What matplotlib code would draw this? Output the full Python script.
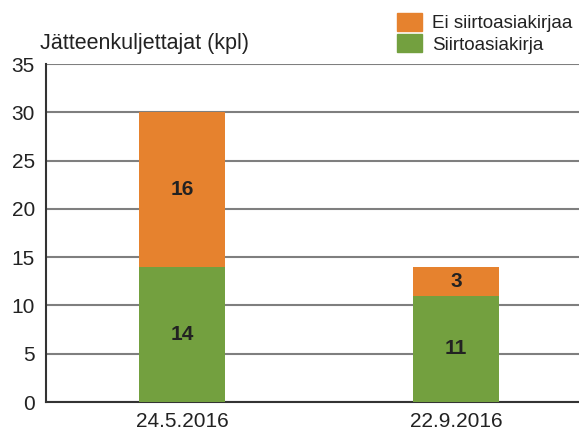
import matplotlib
matplotlib.use("Agg")
import matplotlib.pyplot as plt
import numpy as np
from matplotlib.patches import Patch

plt.rcParams["font.family"] = ["Liberation Sans", "DejaVu Sans"]

dates = ["24.5.2016", "22.9.2016"]
with_doc = [14, 11]       # Siirtoasiakirja
without_doc = [16, 3]     # Ei siirtoasiakirjaa

ORANGE = "#E6822E"
GREEN = "#73A03F"
TEXT = "#222222"

fig = plt.figure(figsize=(5.79, 4.30), dpi=100)
ax = fig.add_axes([0.0794, 0.0651, 0.93, 0.786])

x = np.arange(len(dates))
width = 0.315
b1 = ax.bar(x, with_doc, width, color=GREEN, zorder=3)
b2 = ax.bar(x, without_doc, width, bottom=with_doc, color=ORANGE, zorder=3)

for bars, vals, bottoms in ((b1, with_doc, [0, 0]), (b2, without_doc, with_doc)):
    for rect, v, b in zip(bars, vals, bottoms):
        ax.text(rect.get_x() + rect.get_width() / 2, b + v / 2, str(v),
                ha="center", va="center", fontsize=15, fontweight="bold", color=TEXT, zorder=4)

ax.set_ylim(0, 35)
ax.set_yticks(range(0, 36, 5))
ax.set_xlim(-0.498, 1.47)
ax.set_xticks(x)
ax.set_xticklabels(dates)
ax.tick_params(length=0, labelsize=15, labelcolor=TEXT)
ax.tick_params(axis="y", pad=8)
ax.tick_params(axis="x", pad=7)

ax.yaxis.grid(True, color="#7f7f7f", linewidth=1.5, zorder=1)
ax.set_axisbelow(True)
for s in ("top", "right"):
    ax.spines[s].set_visible(False)
ax.spines["left"].set_color("#333333")
ax.spines["left"].set_linewidth(1.5)
ax.spines["bottom"].set_color("#333333")
ax.spines["bottom"].set_linewidth(1.5)

fig.text(40 / 579, 1 - 43 / 430, "Jätteenkuljettajat (kpl)", fontsize=15.5,
         color=TEXT, ha="left", va="center")

handles = [Patch(color=ORANGE), Patch(color=GREEN)]
fig.legend(handles, ["Ei siirtoasiakirjaa", "Siirtoasiakirja"], loc="upper left",
           bbox_to_anchor=(393 / 579, 1 - 9 / 430), frameon=False, fontsize=13.5,
           handlelength=1.35, handleheight=1.1, handletextpad=0.55, labelspacing=0.12,
           labelcolor=TEXT, borderaxespad=0, borderpad=0.2)

fig.savefig("out.png", dpi=100)
